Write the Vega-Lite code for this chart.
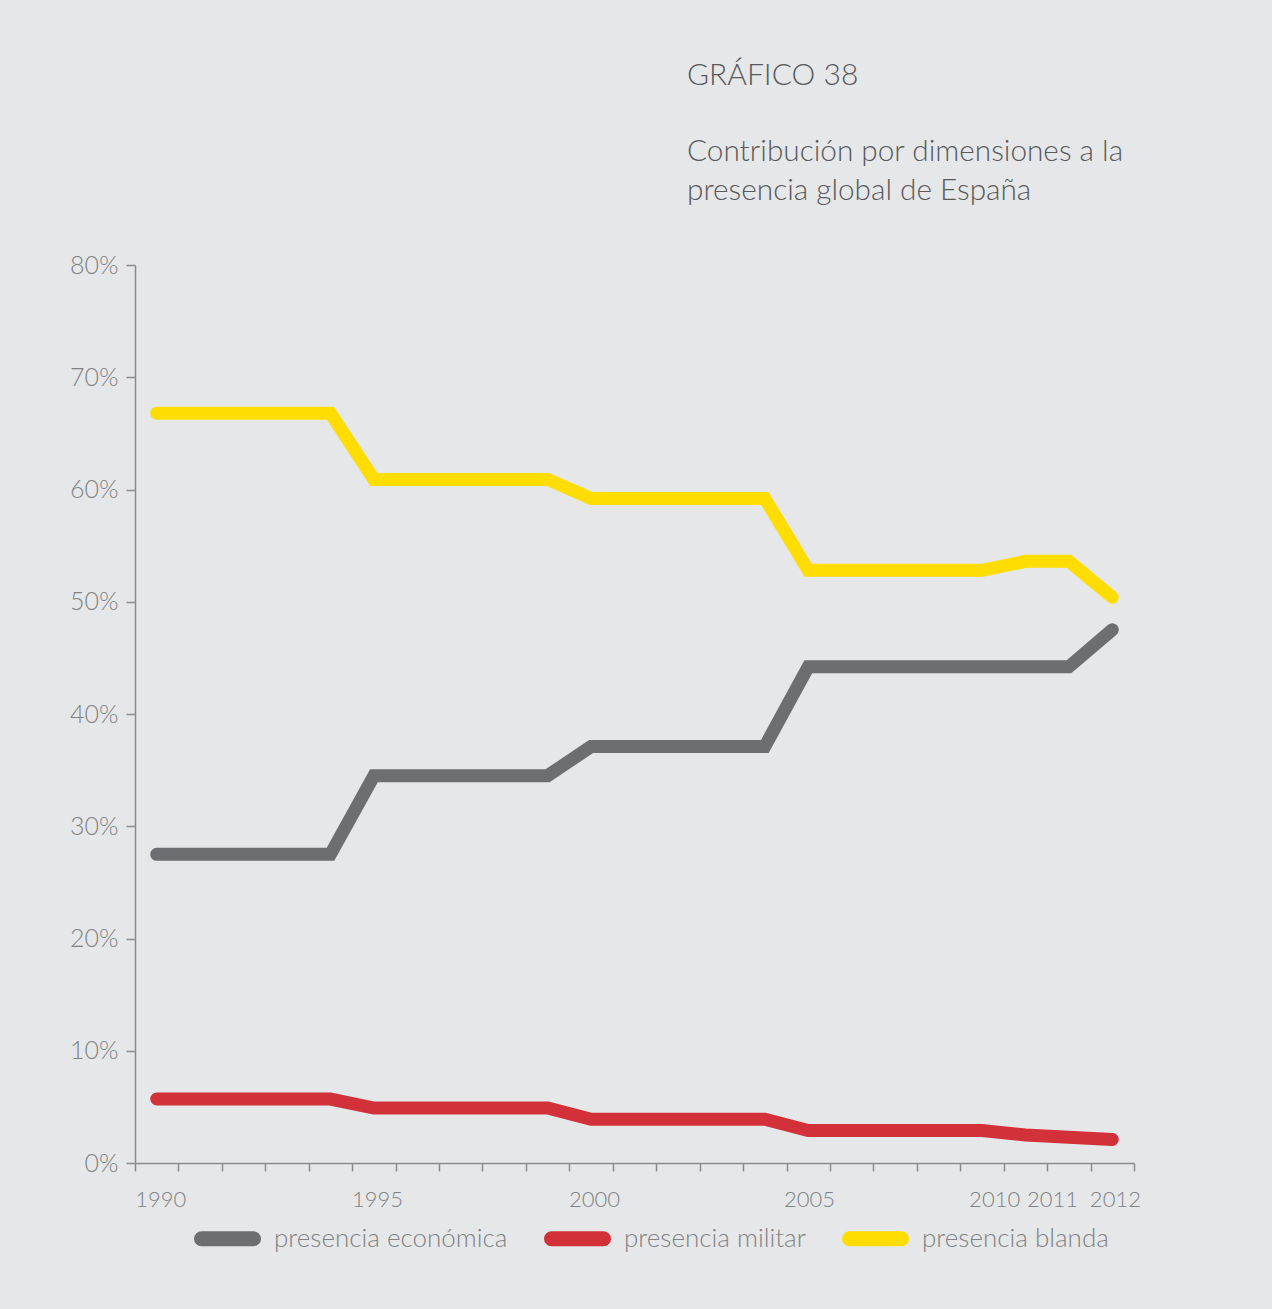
{
  "$schema": "https://vega.github.io/schema/vega-lite/v6.json",
  "width": 999,
  "height": 898,
  "autosize": "none",
  "padding": {"left": 135, "top": 265, "right": 138, "bottom": 146},
  "background": "#e6e7e8",
  "config": {
    "view": {"stroke": null},
    "font": "Lato",
    "axis": {"labelFont": "Lato", "labelFontWeight": 300, "labelColor": "#808285", "domainColor": "#8a8b8e", "tickColor": "#8a8b8e", "domainWidth": 1.5, "tickWidth": 1.5, "grid": false, "title": null},
    "legend": {"labelFont": "Lato", "labelFontWeight": 300}
  },
  "title": {
    "text": "GRÁFICO 38",
    "subtitle": ["Contribución por dimensiones a la", "presencia global de España"],
    "anchor": "start",
    "frame": "group",
    "dx": 552,
    "offset": 47,
    "font": "Lato",
    "fontWeight": 300,
    "fontSize": 30,
    "color": "#58595b",
    "subtitleFont": "Lato",
    "subtitleFontWeight": 300,
    "subtitleFontSize": 29.75,
    "subtitleColor": "#58595b",
    "subtitleLineHeight": 39,
    "subtitlePadding": 46
  },
  "data": {
    "values": [
      {"year": 1990, "serie": "presencia económica", "valor": 27.5},
      {"year": 1991, "serie": "presencia económica", "valor": 27.5},
      {"year": 1992, "serie": "presencia económica", "valor": 27.5},
      {"year": 1993, "serie": "presencia económica", "valor": 27.5},
      {"year": 1994, "serie": "presencia económica", "valor": 27.5},
      {"year": 1995, "serie": "presencia económica", "valor": 34.5},
      {"year": 1996, "serie": "presencia económica", "valor": 34.5},
      {"year": 1997, "serie": "presencia económica", "valor": 34.5},
      {"year": 1998, "serie": "presencia económica", "valor": 34.5},
      {"year": 1999, "serie": "presencia económica", "valor": 34.5},
      {"year": 2000, "serie": "presencia económica", "valor": 37.1},
      {"year": 2001, "serie": "presencia económica", "valor": 37.1},
      {"year": 2002, "serie": "presencia económica", "valor": 37.1},
      {"year": 2003, "serie": "presencia económica", "valor": 37.1},
      {"year": 2004, "serie": "presencia económica", "valor": 37.1},
      {"year": 2005, "serie": "presencia económica", "valor": 44.2},
      {"year": 2006, "serie": "presencia económica", "valor": 44.2},
      {"year": 2007, "serie": "presencia económica", "valor": 44.2},
      {"year": 2008, "serie": "presencia económica", "valor": 44.2},
      {"year": 2009, "serie": "presencia económica", "valor": 44.2},
      {"year": 2010, "serie": "presencia económica", "valor": 44.2},
      {"year": 2011, "serie": "presencia económica", "valor": 44.2},
      {"year": 2012, "serie": "presencia económica", "valor": 47.5},
      {"year": 1990, "serie": "presencia militar", "valor": 5.7},
      {"year": 1991, "serie": "presencia militar", "valor": 5.7},
      {"year": 1992, "serie": "presencia militar", "valor": 5.7},
      {"year": 1993, "serie": "presencia militar", "valor": 5.7},
      {"year": 1994, "serie": "presencia militar", "valor": 5.7},
      {"year": 1995, "serie": "presencia militar", "valor": 4.9},
      {"year": 1996, "serie": "presencia militar", "valor": 4.9},
      {"year": 1997, "serie": "presencia militar", "valor": 4.9},
      {"year": 1998, "serie": "presencia militar", "valor": 4.9},
      {"year": 1999, "serie": "presencia militar", "valor": 4.9},
      {"year": 2000, "serie": "presencia militar", "valor": 3.9},
      {"year": 2001, "serie": "presencia militar", "valor": 3.9},
      {"year": 2002, "serie": "presencia militar", "valor": 3.9},
      {"year": 2003, "serie": "presencia militar", "valor": 3.9},
      {"year": 2004, "serie": "presencia militar", "valor": 3.9},
      {"year": 2005, "serie": "presencia militar", "valor": 2.9},
      {"year": 2006, "serie": "presencia militar", "valor": 2.9},
      {"year": 2007, "serie": "presencia militar", "valor": 2.9},
      {"year": 2008, "serie": "presencia militar", "valor": 2.9},
      {"year": 2009, "serie": "presencia militar", "valor": 2.9},
      {"year": 2010, "serie": "presencia militar", "valor": 2.5},
      {"year": 2011, "serie": "presencia militar", "valor": 2.3},
      {"year": 2012, "serie": "presencia militar", "valor": 2.1},
      {"year": 1990, "serie": "presencia blanda", "valor": 66.8},
      {"year": 1991, "serie": "presencia blanda", "valor": 66.8},
      {"year": 1992, "serie": "presencia blanda", "valor": 66.8},
      {"year": 1993, "serie": "presencia blanda", "valor": 66.8},
      {"year": 1994, "serie": "presencia blanda", "valor": 66.8},
      {"year": 1995, "serie": "presencia blanda", "valor": 60.9},
      {"year": 1996, "serie": "presencia blanda", "valor": 60.9},
      {"year": 1997, "serie": "presencia blanda", "valor": 60.9},
      {"year": 1998, "serie": "presencia blanda", "valor": 60.9},
      {"year": 1999, "serie": "presencia blanda", "valor": 60.9},
      {"year": 2000, "serie": "presencia blanda", "valor": 59.2},
      {"year": 2001, "serie": "presencia blanda", "valor": 59.2},
      {"year": 2002, "serie": "presencia blanda", "valor": 59.2},
      {"year": 2003, "serie": "presencia blanda", "valor": 59.2},
      {"year": 2004, "serie": "presencia blanda", "valor": 59.2},
      {"year": 2005, "serie": "presencia blanda", "valor": 52.8},
      {"year": 2006, "serie": "presencia blanda", "valor": 52.8},
      {"year": 2007, "serie": "presencia blanda", "valor": 52.8},
      {"year": 2008, "serie": "presencia blanda", "valor": 52.8},
      {"year": 2009, "serie": "presencia blanda", "valor": 52.8},
      {"year": 2010, "serie": "presencia blanda", "valor": 53.6},
      {"year": 2011, "serie": "presencia blanda", "valor": 53.6},
      {"year": 2012, "serie": "presencia blanda", "valor": 50.4}
    ]
  },
  "mark": {"type": "line", "strokeWidth": 13, "strokeCap": "round", "strokeJoin": "miter"},
  "encoding": {
    "x": {
      "field": "year",
      "type": "quantitative",
      "scale": {"domain": [1989.5, 2012.5], "nice": false, "zero": false},
      "axis": {
        "values": [1989.5, 1990.5, 1991.5, 1992.5, 1993.5, 1994.5, 1995.5, 1996.5, 1997.5, 1998.5, 1999.5, 2000.5, 2001.5, 2002.5, 2003.5, 2004.5, 2005.5, 2006.5, 2007.5, 2008.5, 2009.5, 2010.5, 2011.5, 2012.5, 1990.08, 1995.07, 2000.07, 2005.02, 2009.28, 2010.61, 2012.06],
        "labelExpr": "datum.value % 1 == 0.5 ? '' : datum.value < 2009 ? format(floor(datum.value), 'd') : datum.value < 2010 ? '2010' : datum.value < 2011 ? '2011' : '2012'",
        "tickOpacity": {"condition": {"test": "datum.value % 1 == 0.5", "value": 1}, "value": 0},
        "tickSize": 8,
        "labelFontSize": 22,
        "labelPadding": 18,
        "labelOverlap": false,
        "labelFlush": false,
        "labelBound": false
      }
    },
    "y": {
      "field": "valor",
      "type": "quantitative",
      "scale": {"domain": [0, 80], "nice": false},
      "axis": {
        "values": [0, 10, 20, 30, 40, 50, 60, 70, 80],
        "labelExpr": "datum.value + '%'",
        "tickSize": 9,
        "labelFontSize": 25,
        "labelPadding": 8
      }
    },
    "color": {
      "field": "serie",
      "type": "nominal",
      "sort": ["presencia económica", "presencia militar", "presencia blanda"],
      "scale": {"domain": ["presencia económica", "presencia militar", "presencia blanda"], "range": ["#6d6e71", "#d3313a", "#ffdd00"]},
      "legend": {
        "orient": "none",
        "legendX": 60,
        "legendY": 941,
        "direction": "horizontal",
        "title": null,
        "padding": 0,
        "symbolType": "M-1,-0.04L1,-0.04A0.04,0.04 0 0 1 1,0.04L-1,0.04A0.04,0.04 0 0 1 -1,-0.04Z",
        "symbolSize": 2704,
        "symbolStrokeWidth": 13,
        "labelFontSize": 26,
        "labelLimit": 400,
        "labelColor": "#808285",
        "labelOffset": 14,
        "columnPadding": 16
      }
    }
  }
}
